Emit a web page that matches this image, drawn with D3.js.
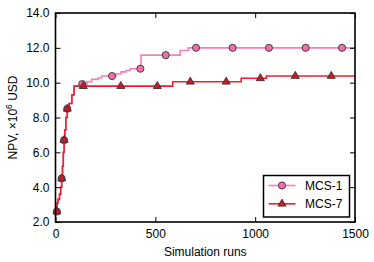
<!DOCTYPE html>
<html><head><meta charset="utf-8">
<script src="https://cdn.jsdelivr.net/npm/d3@7"></script>
<style>body{margin:0;background:#fff}svg{display:block}text{font-family:"Liberation Sans",Arial,sans-serif;fill:#000}</style>
</head><body>
<script>
// ---- data ----
const xTickValues = [0, 500, 1000, 1500];
const yTickValues = [2, 4, 6, 8, 10, 12, 14];
const seriesNames = ["MCS-1", "MCS-7"];

const mcs1Runs   = [5, 8, 12, 20, 26, 31, 35, 39, 43, 47, 52, 59, 68, 82, 93, 120, 159, 181, 213, 231, 303, 328, 353, 373, 428, 624, 665, 1500];
const mcs1Values = [2.6, 3.1, 3.3, 3.6, 4.0, 4.5, 5.2, 6.0, 6.7, 7.3, 8.0, 8.5, 8.8, 9.3, 9.8, 9.92, 10.06, 10.19, 10.27, 10.38, 10.5, 10.62, 10.7, 10.8, 11.58, 11.85, 12.0, 12.0];
const mcs1MarkerRuns = [7, 31, 43, 59, 134, 283, 425, 552, 704, 887, 1069, 1253, 1435];

const mcs7Runs   = [5, 8, 12, 20, 26, 31, 35, 39, 43, 47, 52, 59, 68, 82, 93, 587, 930, 1056, 1500];
const mcs7Values = [2.6, 3.1, 3.3, 3.6, 4.0, 4.5, 5.2, 6.0, 6.7, 7.3, 8.0, 8.5, 8.8, 9.3, 9.8, 10.05, 10.25, 10.38, 10.38];
const mcs7MarkerRuns = [7, 31, 43, 59, 139, 327, 510, 675, 855, 1026, 1201, 1381];

// ---- layout ----
const W = 374, H = 262;
const L = 55.5, R = 355, T = 13, B = 222;
const FS = 12;
const x = d3.scaleLinear().domain([0, 1500]).range([L, R]);
const y = d3.scaleLinear().domain([2, 14]).range([B, T]);

const svg = d3.select("body").append("svg").attr("width", W).attr("height", H);

const toPts = (runs, vals) => runs.map((r, i) => [r, vals[i]]);
const stepLookup = (runs, vals, r) => { let v = vals[0]; for (let i = 0; i < runs.length; i++) { if (runs[i] <= r) v = vals[i]; } return v; };

const line = d3.line().x(d => x(d[0])).y(d => y(d[1])).curve(d3.curveStepAfter);

const styles = {
  "MCS-1": {line: "#f77fb8", fill: "#f06ea9", symbol: d3.symbolCircle, size: 40},
  "MCS-7": {line: "#ee1f2c", fill: "#d8141f", symbol: d3.symbolTriangle, size: 28}
};
const series = [
  {name: "MCS-1", runs: mcs1Runs, vals: mcs1Values, mk: mcs1MarkerRuns},
  {name: "MCS-7", runs: mcs7Runs, vals: mcs7Values, mk: mcs7MarkerRuns}
];

const plot = svg.append("g");
series.forEach(s => {
  const st = styles[s.name];
  plot.append("path").attr("d", line(toPts(s.runs, s.vals)))
    .attr("fill", "none").attr("stroke", st.line).attr("stroke-width", 1.6);
  plot.selectAll(null).data(s.mk).enter().append("path")
    .attr("transform", r => `translate(${x(r)},${y(stepLookup(s.runs, s.vals, r))})`)
    .attr("d", d3.symbol().type(st.symbol).size(st.size)())
    .attr("fill", st.fill).attr("stroke", "#333").attr("stroke-width", 0.9);
});

// ---- axes ----
const tl = 5;
const axB = svg.append("g").attr("transform", `translate(0,${B})`)
  .call(d3.axisBottom(x).tickValues(xTickValues).tickSize(-tl).tickPadding(7.5).tickFormat(d3.format("d")));
const axT = svg.append("g").attr("transform", `translate(0,${T})`)
  .call(d3.axisTop(x).tickValues(xTickValues).tickSize(-tl).tickFormat(""));
const axL = svg.append("g").attr("transform", `translate(${L},0)`)
  .call(d3.axisLeft(y).tickValues(yTickValues).tickSize(-tl).tickPadding(6).tickFormat(d3.format(".1f")));
const axR = svg.append("g").attr("transform", `translate(${R},0)`)
  .call(d3.axisRight(y).tickValues(yTickValues).tickSize(-tl).tickFormat(""));
[axB, axT, axL, axR].forEach(a => {
  a.select(".domain").remove();
  a.selectAll(".tick line").attr("stroke", "#000").attr("stroke-width", 1);
  a.selectAll(".tick text").attr("font-size", FS).attr("font-family", "Liberation Sans, Arial, sans-serif").attr("fill", "#000");
});

svg.append("rect").attr("x", L).attr("y", T).attr("width", R - L).attr("height", B - T)
  .attr("fill", "none").attr("stroke", "#000").attr("stroke-width", 1.6);

// ---- axis labels ----
svg.append("text").attr("x", (L + R) / 2).attr("y", 256).attr("text-anchor", "middle")
  .attr("font-size", FS).text("Simulation runs");
const yl = svg.append("text").attr("transform", `translate(17,${(T + B) / 2}) rotate(-90)`)
  .attr("text-anchor", "middle").attr("font-size", FS);
yl.append("tspan").text("NPV, \u00d710");
yl.append("tspan").attr("font-size", 8.5).attr("dy", -5).text("6");
yl.append("tspan").attr("dy", 5).text(" USD");

// ---- legend ----
const lg = svg.append("g");
lg.append("rect").attr("x", 263.5).attr("y", 175.5).attr("width", 86).attr("height", 41.5)
  .attr("fill", "#fff").attr("stroke", "#000").attr("stroke-width", 1.5);
seriesNames.forEach((n, i) => {
  const st = styles[n];
  const yy = 185.5 + i * 18.3;
  lg.append("line").attr("x1", 268.5).attr("x2", 295.5).attr("y1", yy).attr("y2", yy)
    .attr("stroke", st.line).attr("stroke-width", 1.6);
  lg.append("path").attr("transform", `translate(282,${yy})`)
    .attr("d", d3.symbol().type(st.symbol).size(st.size)())
    .attr("fill", st.fill).attr("stroke", "#333").attr("stroke-width", 0.9);
  lg.append("text").attr("x", 305).attr("y", yy + 4.3).attr("font-size", FS).text(n);
});
</script>
</body></html>
